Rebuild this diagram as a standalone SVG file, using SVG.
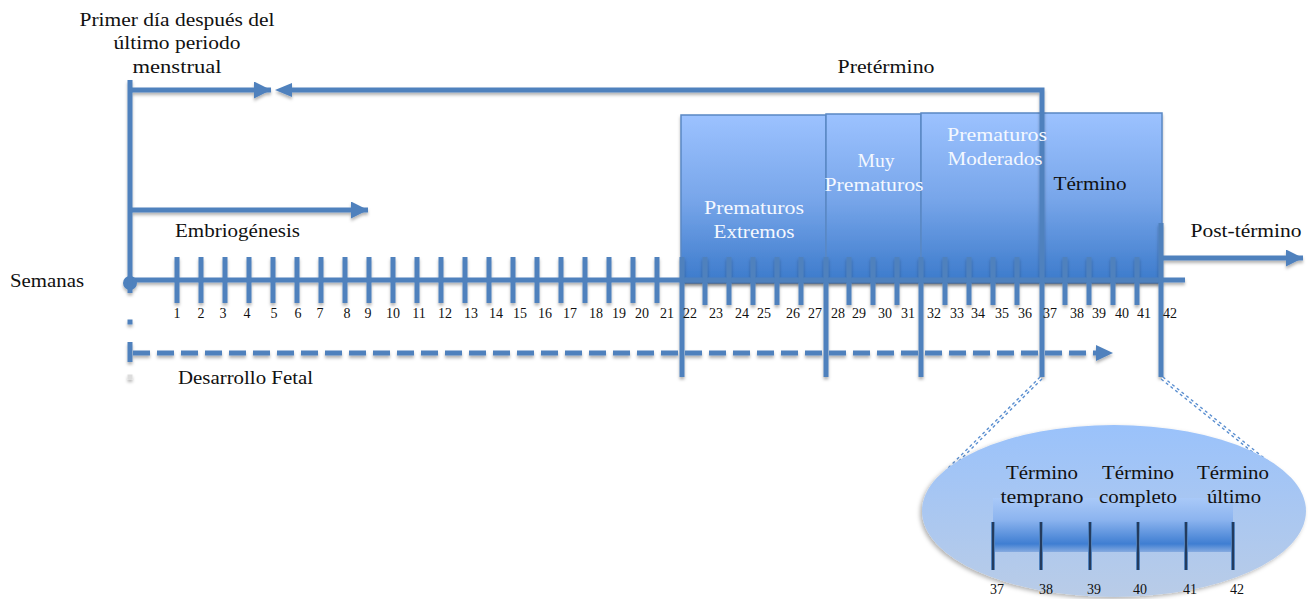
<svg xmlns="http://www.w3.org/2000/svg" width="1308" height="599" viewBox="0 0 1308 599">
<style>
text{font-family:"Liberation Serif","DejaVu Serif",serif;fill:#111}
.lbl{font-size:19px}
.num{font-size:14px;text-anchor:middle}
.mid{text-anchor:middle}
.wt{fill:#f4f8ff}
.ln{stroke:#4f81bd;stroke-width:5;fill:none}
.tk{stroke:#4f81bd;stroke-width:5}
.box{stroke:#5a88c4;stroke-width:1.5;fill:url(#boxGrad)}
</style>
<defs>
<linearGradient id="boxGrad" x1="0" y1="0" x2="0" y2="1">
<stop offset="0" stop-color="#9cc2ff"/>
<stop offset="0.5" stop-color="#78a6ea"/>
<stop offset="1" stop-color="#3b7acb"/>
</linearGradient>
<linearGradient id="ellGrad" x1="0" y1="0" x2="0" y2="1">
<stop offset="0" stop-color="#9ac2fb"/>
<stop offset="1" stop-color="#b9cce7"/>
</linearGradient>
<linearGradient id="bandGrad" x1="0" y1="0" x2="0" y2="1">
<stop offset="0" stop-color="#a9c9f8"/>
<stop offset="0.4" stop-color="#8cb4ef"/>
<stop offset="0.85" stop-color="#3f7ed2"/>
<stop offset="1" stop-color="#86abe0"/>
</linearGradient>
<filter id="sh" x="-5%" y="-5%" width="110%" height="120%">
<feDropShadow dx="0" dy="2.5" stdDeviation="1.5" flood-color="#000" flood-opacity="0.3"/>
</filter>
<filter id="esh" x="-5%" y="-5%" width="110%" height="115%">
<feDropShadow dx="-2" dy="2" stdDeviation="2" flood-color="#000" flood-opacity="0.3"/>
</filter>
<marker id="ah" viewBox="0 0 10 10" refX="10" refY="5" markerWidth="3.4" markerHeight="3.4" orient="auto" markerUnits="strokeWidth">
<path d="M0,0 L10,5 L0,10 Z" fill="#4f81bd"/>
</marker>
</defs>

<!-- term boxes -->
<g id="boxes" filter="url(#sh)">
<g id="prem-extremos"><rect class="box" x="681" y="115" width="145" height="168"/></g>
<g id="muy-prem"><rect class="box" x="826" y="114" width="95" height="169"/></g>
<g id="prem-moderados"><rect class="box" x="921" y="113" width="121" height="170"/></g>
<g id="termino"><rect class="box" x="1042" y="113" width="120" height="170"/></g>
</g>

<!-- connectors and axis -->
<g id="connectors" filter="url(#sh)">
<line class="ln" x1="127" y1="280" x2="1185" y2="280"/>
<circle cx="130" cy="283" r="7" fill="#4f81bd"/>
<line class="ln" x1="130" y1="80" x2="130" y2="293"/>
<rect x="127.5" y="319.5" width="5" height="5" fill="#4f81bd"/>
<line class="ln" x1="130" y1="90" x2="271" y2="90" marker-end="url(#ah)"/>
<path class="ln" d="M288,90 H1042 V377"/>
<path d="M275,90 L292,83 L292,97 Z" fill="#4f81bd"/>
<line class="ln" x1="130" y1="210" x2="368" y2="210" stroke-width="4.5" marker-end="url(#ah)"/>
<line class="ln" x1="130" y1="342" x2="130" y2="362"/>
<line class="ln" x1="133" y1="353" x2="1098" y2="353" stroke-dasharray="17 7"/>
<path d="M1113,353 L1096,345 L1096,361 Z" fill="#4f81bd"/>
<rect x="127.5" y="374.5" width="5" height="5" fill="#dcdcdc"/>
<line class="ln" x1="1161" y1="258" x2="1303" y2="258" marker-end="url(#ah)"/>
<line class="ln" x1="682" y1="257" x2="682" y2="377"/>
<line class="ln" x1="826" y1="257" x2="826" y2="377"/>
<line class="ln" x1="921" y1="257" x2="921" y2="377"/>
<line class="ln" x1="1161" y1="223" x2="1161" y2="377"/>
<g id="ticks">
<line class="tk" x1="177" y1="257" x2="177" y2="303"/>
<line class="tk" x1="201" y1="257" x2="201" y2="303"/>
<line class="tk" x1="225" y1="257" x2="225" y2="303"/>
<line class="tk" x1="249" y1="257" x2="249" y2="303"/>
<line class="tk" x1="273" y1="257" x2="273" y2="303"/>
<line class="tk" x1="297" y1="257" x2="297" y2="303"/>
<line class="tk" x1="321" y1="257" x2="321" y2="303"/>
<line class="tk" x1="345" y1="257" x2="345" y2="303"/>
<line class="tk" x1="369" y1="257" x2="369" y2="303"/>
<line class="tk" x1="393" y1="257" x2="393" y2="303"/>
<line class="tk" x1="417" y1="257" x2="417" y2="303"/>
<line class="tk" x1="441" y1="257" x2="441" y2="303"/>
<line class="tk" x1="465" y1="257" x2="465" y2="303"/>
<line class="tk" x1="489" y1="257" x2="489" y2="303"/>
<line class="tk" x1="513" y1="257" x2="513" y2="303"/>
<line class="tk" x1="537" y1="257" x2="537" y2="303"/>
<line class="tk" x1="561" y1="257" x2="561" y2="303"/>
<line class="tk" x1="585" y1="257" x2="585" y2="303"/>
<line class="tk" x1="609" y1="257" x2="609" y2="303"/>
<line class="tk" x1="633" y1="257" x2="633" y2="303"/>
<line class="tk" x1="657" y1="257" x2="657" y2="303"/>
<line class="tk" x1="705" y1="257" x2="705" y2="305"/>
<line class="tk" x1="729" y1="257" x2="729" y2="305"/>
<line class="tk" x1="753" y1="257" x2="753" y2="305"/>
<line class="tk" x1="777" y1="257" x2="777" y2="305"/>
<line class="tk" x1="801" y1="257" x2="801" y2="305"/>
<line class="tk" x1="849" y1="257" x2="849" y2="305"/>
<line class="tk" x1="873" y1="257" x2="873" y2="305"/>
<line class="tk" x1="897" y1="257" x2="897" y2="305"/>
<line class="tk" x1="945" y1="257" x2="945" y2="305"/>
<line class="tk" x1="969" y1="257" x2="969" y2="305"/>
<line class="tk" x1="993" y1="257" x2="993" y2="305"/>
<line class="tk" x1="1017" y1="257" x2="1017" y2="305"/>
<line class="tk" x1="1065" y1="257" x2="1065" y2="305"/>
<line class="tk" x1="1089" y1="257" x2="1089" y2="305"/>
<line class="tk" x1="1113" y1="257" x2="1113" y2="305"/>
<line class="tk" x1="1137" y1="257" x2="1137" y2="305"/>
</g>
</g>

<!-- box labels drawn on top -->
<g id="prem-extremos-label">
<text class="lbl mid wt" x="754" y="214" textLength="100" lengthAdjust="spacingAndGlyphs">Prematuros</text>
<text class="lbl mid wt" x="754" y="238" textLength="81" lengthAdjust="spacingAndGlyphs">Extremos</text></g>
<g id="muy-prem-label">
<text class="lbl mid wt" x="876" y="167" textLength="37" lengthAdjust="spacingAndGlyphs">Muy</text>
<text class="lbl mid wt" x="874" y="191" textLength="99" lengthAdjust="spacingAndGlyphs">Prematuros</text></g>
<g id="prem-moderados-label">
<text class="lbl mid wt" x="997" y="141" textLength="100" lengthAdjust="spacingAndGlyphs">Prematuros</text>
<text class="lbl mid wt" x="995" y="165" textLength="95" lengthAdjust="spacingAndGlyphs">Moderados</text></g>
<g id="termino-label">
<text class="lbl mid" x="1090" y="190" textLength="73" lengthAdjust="spacingAndGlyphs">Término</text></g>

<!-- zoom guide lines -->
<g id="zoom-lines">
<line x1="1041" y1="378" x2="947" y2="471" stroke="#5b8fd0" stroke-width="4" stroke-dasharray="3 3"/>
<line x1="1041" y1="378" x2="947" y2="471" stroke="#fff" stroke-width="1.2"/>
<line x1="1162" y1="378" x2="1282" y2="474" stroke="#5b8fd0" stroke-width="4" stroke-dasharray="3 3"/>
<line x1="1162" y1="378" x2="1282" y2="474" stroke="#fff" stroke-width="1.2"/>
</g>

<!-- detail ellipse -->
<g id="detalle-termino">
<ellipse cx="1114" cy="511" rx="192" ry="86" fill="url(#ellGrad)" filter="url(#esh)"/>
<rect x="993" y="498" width="97" height="54" fill="url(#bandGrad)"/>
<rect x="1090" y="498" width="96" height="54" fill="url(#bandGrad)"/>
<rect x="1186" y="498" width="47" height="54" fill="url(#bandGrad)"/>
<g stroke="#4f81bd" stroke-width="4">
<line x1="993" y1="522" x2="993" y2="570"/><line x1="1041" y1="522" x2="1041" y2="570"/><line x1="1090" y1="522" x2="1090" y2="570"/>
<line x1="1138" y1="522" x2="1138" y2="570"/><line x1="1186" y1="522" x2="1186" y2="570"/><line x1="1233" y1="522" x2="1233" y2="570"/>
</g>
<g stroke="#1a2a45" stroke-width="1.6">
<line x1="993" y1="522" x2="993" y2="570"/><line x1="1041" y1="522" x2="1041" y2="570"/><line x1="1090" y1="522" x2="1090" y2="570"/>
<line x1="1138" y1="522" x2="1138" y2="570"/><line x1="1186" y1="522" x2="1186" y2="570"/><line x1="1233" y1="522" x2="1233" y2="570"/>
</g>
<text class="lbl mid" x="1042" y="479" textLength="72" lengthAdjust="spacingAndGlyphs">Término</text>
<text class="lbl mid" x="1042" y="503" textLength="83" lengthAdjust="spacingAndGlyphs">temprano</text>
<text class="lbl mid" x="1138" y="479" textLength="72" lengthAdjust="spacingAndGlyphs">Término</text>
<text class="lbl mid" x="1138" y="503" textLength="78" lengthAdjust="spacingAndGlyphs">completo</text>
<text class="lbl mid" x="1233" y="479" textLength="72" lengthAdjust="spacingAndGlyphs">Término</text>
<text class="lbl mid" x="1234" y="503" textLength="54" lengthAdjust="spacingAndGlyphs">último</text>
<text class="num" x="997" y="594">37</text><text class="num" x="1046" y="594">38</text><text class="num" x="1094" y="594">39</text>
<text class="num" x="1140" y="594">40</text><text class="num" x="1190" y="594">41</text><text class="num" x="1237" y="594">42</text>
</g>

<!-- labels -->
<g id="lbl-primer-dia">
<text class="lbl mid" x="177" y="26" textLength="195" lengthAdjust="spacingAndGlyphs">Primer día después del</text>
<text class="lbl mid" x="177" y="49" textLength="127" lengthAdjust="spacingAndGlyphs">último periodo</text>
<text class="lbl mid" x="177" y="73" textLength="89" lengthAdjust="spacingAndGlyphs">menstrual</text>
</g>
<g id="lbl-pretermino"><text class="lbl mid" x="886" y="73" textLength="97" lengthAdjust="spacingAndGlyphs">Pretérmino</text></g>
<g id="lbl-embriogenesis"><text class="lbl" x="175" y="237" textLength="125" lengthAdjust="spacingAndGlyphs">Embriogénesis</text></g>
<g id="lbl-semanas"><text class="lbl" x="10" y="287" textLength="74" lengthAdjust="spacingAndGlyphs">Semanas</text></g>
<g id="lbl-desarrollo"><text class="lbl" x="178" y="384" textLength="135" lengthAdjust="spacingAndGlyphs">Desarrollo Fetal</text></g>
<g id="lbl-postermino"><text class="lbl mid" x="1246" y="237" textLength="111" lengthAdjust="spacingAndGlyphs">Post-término</text></g>

<g id="week-numbers">
<text class="num" x="177" y="318">1</text><text class="num" x="201" y="318">2</text><text class="num" x="223" y="318">3</text>
<text class="num" x="247" y="318">4</text><text class="num" x="274" y="318">5</text><text class="num" x="298" y="318">6</text>
<text class="num" x="320" y="318">7</text><text class="num" x="347" y="318">8</text><text class="num" x="368" y="318">9</text>
<text class="num" x="393" y="318">10</text><text class="num" x="419" y="318">11</text><text class="num" x="445" y="318">12</text>
<text class="num" x="471" y="318">13</text><text class="num" x="496" y="318">14</text><text class="num" x="520" y="318">15</text>
<text class="num" x="545" y="318">16</text><text class="num" x="570" y="318">17</text><text class="num" x="596" y="318">18</text>
<text class="num" x="619" y="318">19</text><text class="num" x="642" y="318">20</text><text class="num" x="667" y="318">21</text>
<text class="num" x="690" y="318">22</text><text class="num" x="716" y="318">23</text><text class="num" x="742" y="318">24</text>
<text class="num" x="764" y="318">25</text><text class="num" x="793" y="318">26</text><text class="num" x="815" y="318">27</text>
<text class="num" x="838" y="318">28</text><text class="num" x="859" y="318">29</text><text class="num" x="885" y="318">30</text>
<text class="num" x="908" y="318">31</text><text class="num" x="934" y="318">32</text><text class="num" x="957" y="318">33</text>
<text class="num" x="978" y="318">34</text><text class="num" x="1002" y="318">35</text><text class="num" x="1025" y="318">36</text>
<text class="num" x="1050" y="318">37</text><text class="num" x="1077" y="318">38</text><text class="num" x="1099" y="318">39</text>
<text class="num" x="1122" y="318">40</text><text class="num" x="1144" y="318">41</text><text class="num" x="1170" y="318">42</text>
</g>
</svg>
